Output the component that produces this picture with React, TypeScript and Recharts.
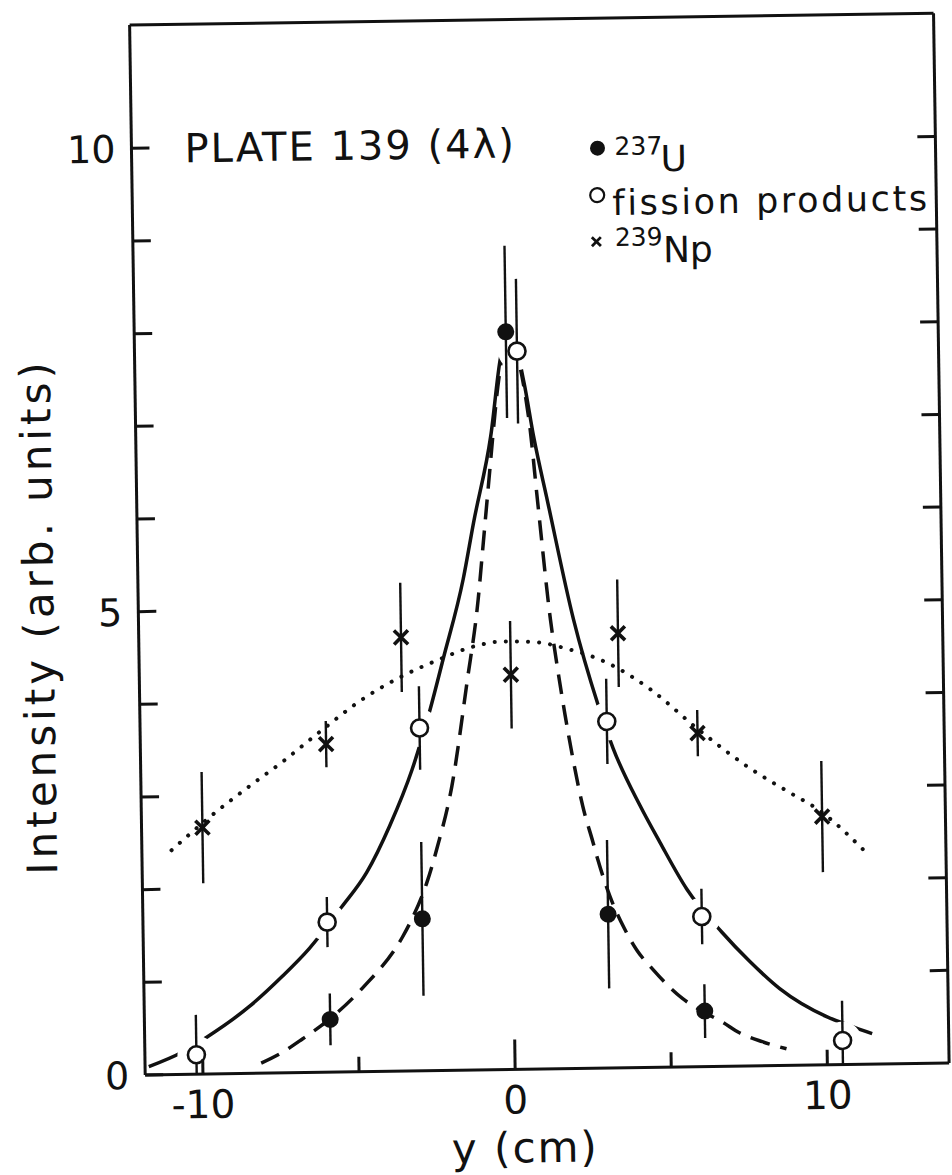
import {
  ComposedChart,
  ErrorBar,
  Label,
  Legend,
  Line,
  Scatter,
  XAxis,
  YAxis,
} from 'recharts'

const FONT = '"DejaVu Sans", Verdana, sans-serif'
const INK = '#111'

// measured points: position y (cm) and intensity (arb. units)
const uPos = [-5.9, -2.9, 0.05, 3.05, 6.1]
const uIntensity = [0.57, 1.64, 7.96, 1.66, 0.6]
const uError = [0.28, 0.83, 0.93, 0.8, 0.29]

const fpPos = [-10.2, -5.95, -2.9, 0.4, 3.1, 6.05, 10.5]
const fpIntensity = [0.21, 1.62, 3.7, 7.75, 3.74, 1.62, 0.26]
const fpErrorLow = [0.21, 0.27, 0.45, 0.78, 0.46, 0.3, 0.26]
const fpErrorHigh = [0.43, 0.27, 0.45, 0.78, 0.46, 0.3, 0.43]

const npPos = [-9.9, -5.9, -3.45, 0.05, 3.5, 6.0, 9.95]
const npIntensity = [2.66, 3.54, 4.68, 4.26, 4.69, 3.6, 2.68]
const npError = [0.6, 0.25, 0.59, 0.58, 0.58, 0.25, 0.6]

// drawn-in curves through each data set
const uFitPos = [-8.13, -7.46, -6.81, -5.93, -4.86, -3.54, -3.25, -2.75, -2.38, -1.89, -1.36, -0.96, -0.8, -0.58, -0.23, -0.05, 0.1, 0.75, 0.99, 1.34, 1.54, 1.77, 2.0, 2.29, 2.6, 2.74, 3.11, 3.57, 3.95, 4.45, 5.39, 6.06, 6.65, 7.2, 7.93, 8.7]
const uFit = [0.11, 0.22, 0.36, 0.57, 0.9, 1.45, 1.63, 2.02, 2.42, 3.07, 4.18, 5.08, 5.59, 6.3, 7.37, 7.75, 7.9, 7.01, 6.12, 4.86, 4.34, 3.81, 3.34, 2.83, 2.44, 2.26, 1.86, 1.5, 1.27, 1.06, 0.74, 0.59, 0.48, 0.36, 0.26, 0.18]

const fpFitPos = [-11.73, -10.66, -9.85, -8.49, -7.42, -6.53, -5.48, -4.66, -3.9, -3.16, -2.55, -2.11, -1.43, -1.07, -0.48, -0.12, 0.2, 0.61, 0.89, 1.31, 2.08, 2.83, 3.29, 4.12, 4.74, 5.58, 6.68, 7.56, 8.51, 10.0, 10.73, 11.45]
const fpFit = [0.09, 0.24, 0.4, 0.72, 1.04, 1.34, 1.78, 2.15, 2.65, 3.25, 3.9, 4.44, 5.3, 5.91, 6.84, 7.7, 7.95, 7.41, 6.83, 6.12, 4.85, 3.92, 3.45, 2.83, 2.43, 1.92, 1.45, 1.13, 0.83, 0.52, 0.42, 0.33]

const npFitPos = [-10.9, -9.67, -8.37, -7.29, -6.19, -4.57, -3.5, -2.21, -1.24, -0.18, 0.78, 1.87, 3.16, 4.51, 5.99, 7.67, 8.84, 9.89, 11.3]
const npFit = [2.42, 2.77, 3.1, 3.36, 3.65, 4.05, 4.25, 4.44, 4.56, 4.62, 4.61, 4.53, 4.37, 4.08, 3.65, 3.21, 2.96, 2.74, 2.3]

const xDomain: [number, number] = [-11.85, 13.9]
const yDomain: [number, number] = [0, 11.33]
const xTicks = [-10, -5, 0, 5, 10]
const xTickLabels: Record<number, string> = { [-10]: '-10', 0: '0', 10: '10' }
const yTicks = [0, 1, 2, 3, 4, 5, 6, 7, 8, 9, 10]
const yTickLabels: Record<number, string> = { 0: '0', 5: '5', 10: '10' }

const zip = (xs: number[], ys: number[]) => xs.map((x, i) => ({ x, y: ys[i] }))

const uPoints = uPos.map((x, i) => ({ x, y: uIntensity[i], err: uError[i] }))
const fpPoints = fpPos.map((x, i) => ({ x, y: fpIntensity[i], err: [fpErrorLow[i], fpErrorHigh[i]] }))
const npPoints = npPos.map((x, i) => ({ x, y: npIntensity[i], err: npError[i] }))
const uCurve = zip(uFitPos, uFit)
const fpCurve = zip(fpFitPos, fpFit)
const npCurve = zip(npFitPos, npFit)

const frame = { stroke: INK, strokeWidth: 3 }
const textStyle = { fontFamily: FONT, fill: INK }

function BottomTick({ x, y, payload }: any) {
  const label = xTickLabels[payload.value]
  const len = payload.value === 0 ? 30 : 15
  return (
    <g>
      <line x1={x} x2={x} y1={y} y2={y - len} stroke={INK} strokeWidth={3} />
      {label && (
        <text x={x} y={y + 44} textAnchor="middle" fontSize={39} {...textStyle}>
          {label}
        </text>
      )}
    </g>
  )
}

function TopTick({ x, y, payload }: any) {
  const len = payload.value === 0 ? 32 : 16
  return <line x1={x} x2={x} y1={y} y2={y + len} stroke={INK} strokeWidth={3} />
}

function LeftTick({ x, y, payload }: any) {
  const label = yTickLabels[payload.value]
  return (
    <g>
      <line x1={x} x2={x + 18} y1={y} y2={y} stroke={INK} strokeWidth={3} />
      {label && (
        <text x={x - 16} y={y + 14} textAnchor="end" fontSize={38} {...textStyle}>
          {label}
        </text>
      )}
    </g>
  )
}

function RightTick({ x, y }: any) {
  return <line x1={x} x2={x - 18} y1={y} y2={y} stroke={INK} strokeWidth={3} />
}

const FilledDot = ({ cx, cy }: any) => <circle cx={cx} cy={cy} r={8.5} fill={INK} />
const OpenDot = ({ cx, cy }: any) => (
  <circle cx={cx} cy={cy} r={8.5} fill="#fff" stroke={INK} strokeWidth={2.6} />
)
const Cross = ({ cx, cy }: any) => (
  <path
    d={`M${cx - 7},${cy - 7}L${cx + 7},${cy + 7}M${cx - 7},${cy + 7}L${cx + 7},${cy - 7}`}
    stroke={INK}
    strokeWidth={3.6}
  />
)
// white ring that breaks the fitted curve around the open circles
const Halo = ({ cx, cy }: any) => <circle cx={cx} cy={cy} r={19} fill="#fff" />

function LegendBox() {
  return (
    <svg width={360} height={150} style={{ display: 'block', overflow: 'visible' }}>
      <circle cx={14} cy={25} r={7.5} fill={INK} />
      <text x={31} y={32} fontSize={25} {...textStyle}>237</text>
      <text x={77} y={49} fontSize={36} {...textStyle}>U</text>
      <circle cx={13} cy={72} r={7} fill="#fff" stroke={INK} strokeWidth={2.2} />
      <text x={28} y={92} fontSize={35} letterSpacing={2.6} {...textStyle}>fission products</text>
      <path d="M7,114L16,123M7,123L16,114" stroke={INK} strokeWidth={2.8} />
      <text x={30} y={123} fontSize={25} {...textStyle}>239</text>
      <text x={78} y={140} fontSize={36} {...textStyle}>Np</text>
    </svg>
  )
}

const XTitle = () => (
  <text x={517} y={1163} textAnchor="middle" fontSize={42} letterSpacing={2} {...textStyle}>
    y (cm)
  </text>
)

const YTitle = () => (
  <text
    transform="translate(53, 610) rotate(-90)"
    textAnchor="middle"
    fontSize={42}
    letterSpacing={4}
    {...textStyle}
  >
    Intensity (arb. units)
  </text>
)

const curveProps = {
  dataKey: 'y',
  type: 'monotone' as const,
  stroke: INK,
  dot: false,
  activeDot: false,
  isAnimationActive: false,
  zIndex: 100,
}

export default function App() {
  return (
    <div
      style={{
        position: 'absolute',
        left: 0,
        top: 0,
        width: 952,
        height: 1175,
        background: '#fff',
        // the plate is mounted slightly askew
        transform: 'rotate(-0.85deg)',
        transformOrigin: '50% 50%',
      }}
    >
      <ComposedChart width={952} height={1175} margin={{ top: 10, right: 5, bottom: 45, left: 60 }}>
        <XAxis
          dataKey="x"
          type="number"
          domain={xDomain}
          allowDataOverflow
          ticks={xTicks}
          tick={BottomTick}
          tickLine={false}
          tickSize={0}
          tickMargin={0}
          height={60}
          axisLine={frame}
        >
          <Label content={XTitle} />
        </XAxis>
        <XAxis
          xAxisId="top"
          orientation="top"
          type="number"
          domain={xDomain}
          allowDataOverflow
          ticks={xTicks}
          tick={TopTick}
          tickLine={false}
          tickSize={0}
          tickMargin={0}
          height={10}
          axisLine={frame}
        />
        <YAxis
          dataKey="y"
          type="number"
          domain={yDomain}
          allowDataOverflow
          ticks={yTicks}
          tick={LeftTick}
          tickLine={false}
          tickSize={0}
          tickMargin={0}
          width={78}
          axisLine={frame}
        >
          <Label content={YTitle} />
        </YAxis>
        <YAxis
          yAxisId="right"
          orientation="right"
          type="number"
          domain={yDomain}
          allowDataOverflow
          ticks={yTicks.slice(1)}
          tick={RightTick}
          tickLine={false}
          tickSize={0}
          tickMargin={0}
          width={5}
          axisLine={frame}
        />
        <Legend
          layout="vertical"
          align="center"
          verticalAlign="middle"
          content={LegendBox}
          wrapperStyle={{ left: 590, top: 125, width: 360, height: 150 }}
        />

        <Line {...curveProps} data={npCurve} strokeWidth={4} strokeDasharray="0.1 11" strokeLinecap="round" />
        <Line {...curveProps} data={fpCurve} strokeWidth={3.5} />
        <Line {...curveProps} data={uCurve} strokeWidth={3.5} strokeDasharray="20 11" />

        <Scatter data={fpPoints} dataKey="y" shape={Halo} isAnimationActive={false} zIndex={300} />
        <Scatter data={uPoints} dataKey="y" shape={FilledDot} isAnimationActive={false} zIndex={600}>
          <ErrorBar dataKey="err" direction="y" width={0} stroke={INK} strokeWidth={2.4} zIndex={500} />
        </Scatter>
        <Scatter data={fpPoints} dataKey="y" shape={OpenDot} isAnimationActive={false} zIndex={600}>
          <ErrorBar dataKey="err" direction="y" width={0} stroke={INK} strokeWidth={2.4} zIndex={500} />
        </Scatter>
        <Scatter data={npPoints} dataKey="y" shape={Cross} isAnimationActive={false} zIndex={600}>
          <ErrorBar dataKey="err" direction="y" width={0} stroke={INK} strokeWidth={2.4} zIndex={500} />
        </Scatter>
      </ComposedChart>

      <svg
        width={952}
        height={1175}
        style={{ position: 'absolute', left: 0, top: 0, pointerEvents: 'none' }}
      >
        <text x={191} y={158} fontSize={40} letterSpacing={2} {...textStyle}>
          PLATE 139 (4λ)
        </text>
      </svg>
    </div>
  )
}
